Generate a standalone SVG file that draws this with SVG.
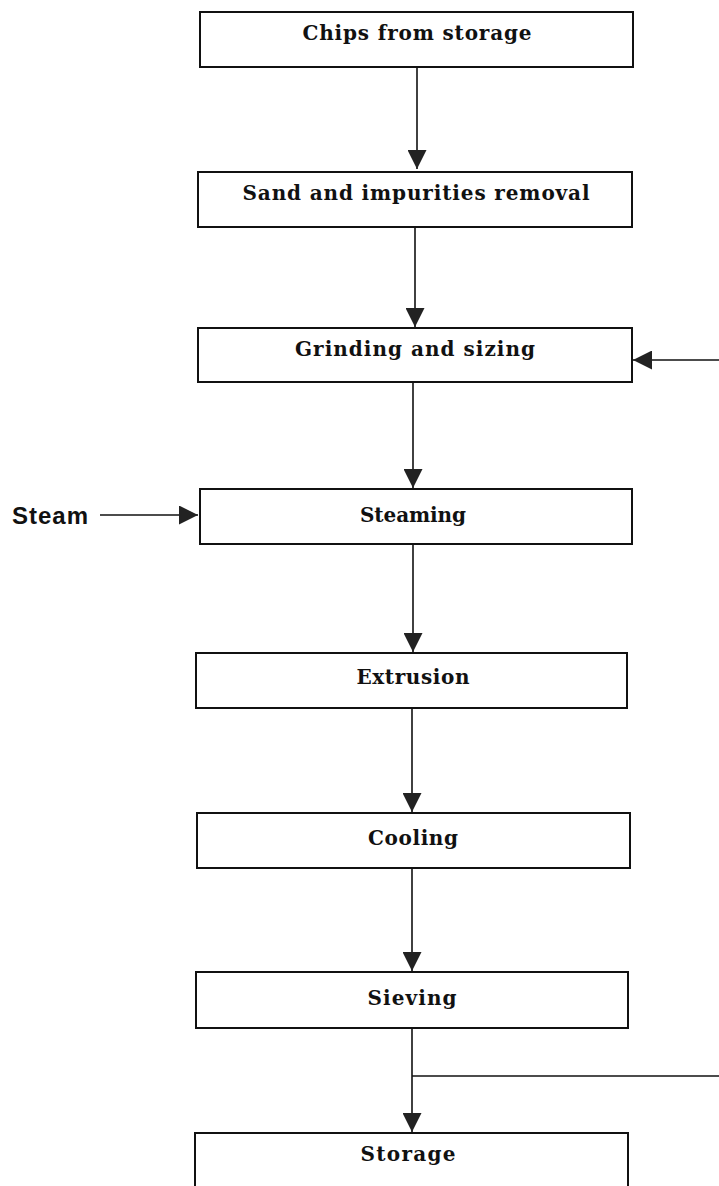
<svg xmlns="http://www.w3.org/2000/svg" width="719" height="1186" viewBox="0 0 719 1186">
<style>
.box{fill:#fff;stroke:#111;stroke-width:2}
.lbl{font-family:"DejaVu Serif","Liberation Serif",serif;font-weight:bold;font-size:20px;fill:#111;text-anchor:middle}
.side{font-family:"Liberation Sans",Arial,sans-serif;font-weight:bold;font-size:24px;letter-spacing:1px;fill:#111}
.ln{fill:none;stroke:#111;stroke-width:1.6}
</style>
<defs>
<marker id="ah" markerUnits="userSpaceOnUse" viewBox="0 0 20 20" refX="20" refY="10" markerWidth="20" markerHeight="19" orient="auto">
<path d="M0,0 L20,10 L0,20 z" fill="#222"/>
</marker>
</defs>
<rect width="719" height="1186" fill="#fff"/>
<g id="connectors">
<line class="ln" x1="417" y1="67" x2="417" y2="169" marker-end="url(#ah)"/>
<line class="ln" x1="415" y1="227" x2="415" y2="327" marker-end="url(#ah)"/>
<line class="ln" x1="719" y1="360" x2="633" y2="360" marker-end="url(#ah)"/>
<line class="ln" x1="413" y1="382" x2="413" y2="488" marker-end="url(#ah)"/>
<line class="ln" x1="100" y1="515" x2="198" y2="515" marker-end="url(#ah)"/>
<line class="ln" x1="413" y1="544" x2="413" y2="652" marker-end="url(#ah)"/>
<line class="ln" x1="412" y1="708" x2="412" y2="812" marker-end="url(#ah)"/>
<line class="ln" x1="412" y1="868" x2="412" y2="971" marker-end="url(#ah)"/>
<line class="ln" x1="412" y1="1028" x2="412" y2="1132" marker-end="url(#ah)"/>
<line class="ln" x1="412" y1="1076" x2="719" y2="1076"/>
</g>
<g id="n1"><rect class="box" x="200" y="12" width="433" height="55"/><text class="lbl" x="417" y="40" textLength="229" lengthAdjust="spacing">Chips from storage</text></g>
<g id="n2"><rect class="box" x="198" y="172" width="434" height="55"/><text class="lbl" x="416" y="200" textLength="347" lengthAdjust="spacing">Sand and impurities removal</text></g>
<g id="n3"><rect class="box" x="198" y="328" width="434" height="54"/><text class="lbl" x="415" y="356" textLength="240" lengthAdjust="spacing">Grinding and sizing</text></g>
<g id="n4"><rect class="box" x="200" y="489" width="432" height="55"/><text class="lbl" x="413" y="522" textLength="106" lengthAdjust="spacing">Steaming</text></g>
<g id="steam"><text class="side" x="12" y="524">Steam</text></g>
<g id="n5"><rect class="box" x="196" y="653" width="431" height="55"/><text class="lbl" x="413" y="684" textLength="113" lengthAdjust="spacing">Extrusion</text></g>
<g id="n6"><rect class="box" x="197" y="813" width="433" height="55"/><text class="lbl" x="413" y="845" textLength="90" lengthAdjust="spacing">Cooling</text></g>
<g id="n7"><rect class="box" x="196" y="972" width="432" height="56"/><text class="lbl" x="412" y="1005" textLength="89" lengthAdjust="spacing">Sieving</text></g>
<g id="n8"><path class="box" d="M195,1190 L195,1133 L628,1133 L628,1190"/><text class="lbl" x="408" y="1161" textLength="95" lengthAdjust="spacing">Storage</text></g>
</svg>
